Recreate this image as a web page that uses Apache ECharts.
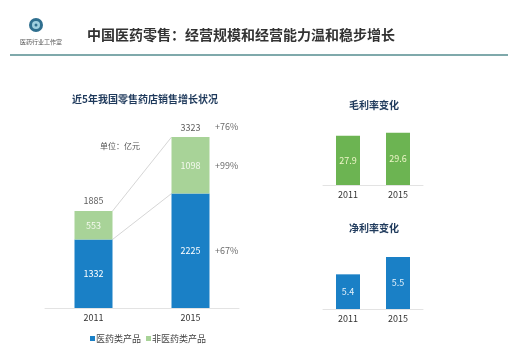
<!DOCTYPE html>
<html>
<head>
<meta charset="utf-8">
<script src="https://cdn.jsdelivr.net/npm/echarts@6/dist/echarts.min.js"></script>
<style>
html, body { margin: 0; padding: 0; background: #fff; }
#main { width: 522px; height: 352px; }
</style>
</head>
<body>
<div id="main"></div>
<script>
// 近5年零售药店销售（亿元）
var years = ['2011', '2015']
var drugSales = [1332, 2225]
var nonDrugSales = [553, 1098]
var totals = [1885, 3323]
var growth = ['+67%', '+99%', '+76%']
// 毛利率 / 净利率
var grossMargin = [27.9, 29.6]
var netMargin = [5.4, 5.5]

var font = 'Noto Sans CJK SC'
var navy = '#1f3a5c'
var blue = '#1a80c6'
var lightGreen = '#a8d398'
var green = '#6cb452'

var chart = echarts.init(document.getElementById('main'))

var option = {
  backgroundColor: '#fff',
  textStyle: { fontFamily: font },
  animation: false,
  title: [
    { text: '中国医药零售：经营规模和经营能力温和稳步增长', left: 82, top: 23,
      textStyle: { fontSize: 14, fontWeight: 'bold', color: '#333', fontFamily: font } },
    { text: '近5年我国零售药店销售增长状况', left: 140, top: 89, textAlign: 'center',
      textStyle: { fontSize: 10, fontWeight: 'bold', color: navy, fontFamily: font } },
    { text: '单位：亿元', left: 115, top: 137, textAlign: 'center',
      textStyle: { fontSize: 8, fontWeight: 'normal', color: '#555', fontFamily: font } },
    { text: '毛利率变化', left: 369, top: 95, textAlign: 'center',
      textStyle: { fontSize: 10, fontWeight: 'bold', color: navy, fontFamily: font } },
    { text: '净利率变化', left: 369, top: 218, textAlign: 'center',
      textStyle: { fontSize: 10, fontWeight: 'bold', color: navy, fontFamily: font } }
  ],
  legend: {
    data: ['医药类产品', '非医药类产品'],
    left: 85,
    top: 329,
    icon: 'rect',
    itemWidth: 5,
    itemHeight: 5,
    itemGap: 5,
    textStyle: { fontSize: 9, color: '#444', padding: [0, 0, 0, -4] }
  },
  grid: [
    { left: 45, width: 194, top: 128, height: 180 },
    { left: 323, width: 100, top: 132, height: 53 },
    { left: 323, width: 100, top: 257, height: 52 }
  ],
  xAxis: [0, 1, 2].map(function (i) {
    return {
      type: 'category',
      gridIndex: i,
      data: years,
      axisTick: { show: false },
      axisLine: { lineStyle: { color: '#e3e3e3', width: 1 } },
      axisLabel: { fontSize: 9, color: '#333', margin: 5 }
    }
  }),
  yAxis: [
    { gridIndex: 0, min: 0, max: 3500, show: false, splitLine: { show: false } },
    { gridIndex: 1, min: 0, max: 30, show: false, splitLine: { show: false } },
    { gridIndex: 2, min: 5.2, max: 5.5, show: false, splitLine: { show: false } }
  ],
  series: [
    {
      name: '医药类产品', type: 'bar', stack: 'sales', barWidth: 38,
      xAxisIndex: 0, yAxisIndex: 0,
      data: drugSales,
      itemStyle: { color: blue },
      label: { show: true, position: 'inside', color: '#fff', fontSize: 9 }
    },
    {
      name: '非医药类产品', type: 'bar', stack: 'sales', barWidth: 38,
      xAxisIndex: 0, yAxisIndex: 0,
      data: nonDrugSales,
      itemStyle: { color: lightGreen },
      label: { show: true, position: 'inside', color: '#f4f9ee', fontSize: 9 }
    },
    {
      name: 'total', type: 'scatter', xAxisIndex: 0, yAxisIndex: 0,
      symbolSize: 1, itemStyle: { color: 'rgba(0,0,0,0)' },
      data: totals,
      label: { show: true, position: 'top', distance: 5, color: '#333', fontSize: 9 }
    },
    {
      name: 'growth', type: 'scatter', xAxisIndex: 0, yAxisIndex: 0,
      symbolSize: 1, itemStyle: { color: 'rgba(0,0,0,0)' },
      data: [
        { value: [1, drugSales[1] / 2], name: growth[0] },
        { value: [1, drugSales[1] + nonDrugSales[1] / 2], name: growth[1] },
        { value: [1, totals[1]], name: growth[2], label: { offset: [0, -11] } }
      ],
      label: { show: true, position: 'right', distance: 24, color: '#444', fontSize: 9,
        formatter: function (p) { return p.name } }
    },
    {
      name: '毛利率', type: 'bar', barWidth: 24,
      xAxisIndex: 1, yAxisIndex: 1,
      data: grossMargin,
      itemStyle: { color: green },
      label: { show: true, position: 'inside', color: '#eef6c8', fontSize: 9 }
    },
    {
      name: '净利率', type: 'bar', barWidth: 24,
      xAxisIndex: 2, yAxisIndex: 2,
      data: netMargin,
      itemStyle: { color: blue },
      label: { show: true, position: 'inside', color: '#e6f2fb', fontSize: 9 }
    }
  ]
}

chart.setOption(option)

// 连接线、标题下划线、logo
var p0 = chart.convertToPixel({ gridIndex: 0 }, [0, totals[0]])
var p1 = chart.convertToPixel({ gridIndex: 0 }, [1, totals[1]])
var s0 = chart.convertToPixel({ gridIndex: 0 }, [0, drugSales[0]])
var s1 = chart.convertToPixel({ gridIndex: 0 }, [1, drugSales[1]])
var half = 19

chart.setOption({
  graphic: [
    { type: 'line', shape: { x1: p0[0] + half, y1: p0[1], x2: p1[0] - half, y2: p1[1] },
      style: { stroke: '#d6d6d6', lineWidth: 1 } },
    { type: 'line', shape: { x1: s0[0] + half, y1: s0[1], x2: s1[0] - half, y2: s1[1] },
      style: { stroke: '#d6d6d6', lineWidth: 1 } },
    { type: 'line', shape: { x1: 10, y1: 55, x2: 508, y2: 55 },
      style: { stroke: '#7fa9ab', lineWidth: 2 } },
    { type: 'circle', shape: { cx: 36, cy: 25, r: 7 },
      style: { fill: '#2f6f8f' } },
    { type: 'circle', shape: { cx: 36, cy: 25, r: 4 },
      style: { fill: '#9fd0e0' } },
    { type: 'circle', shape: { cx: 36, cy: 25, r: 1.5 },
      style: { fill: '#2f6f8f' } },
    { type: 'text', left: 20, top: 39,
      style: { text: '医药行业工作室', fontSize: 6, fill: '#555', fontFamily: font } }
  ]
})

window.addEventListener('resize', function () { chart.resize() })
</script>
</body>
</html>
